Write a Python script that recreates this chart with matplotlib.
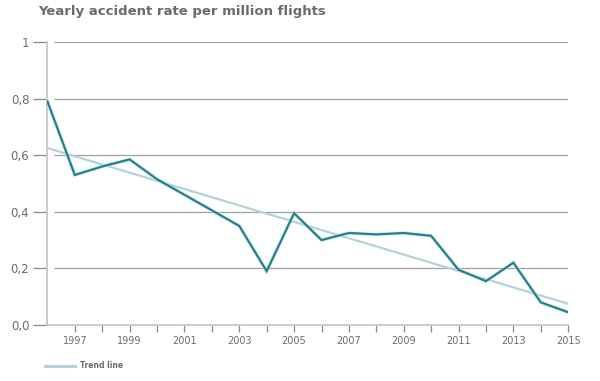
import matplotlib.pyplot as plt
from matplotlib.lines import Line2D

# yearly accident rate per million flights
years = list(range(1996, 2016))
rate = [0.79, 0.53, 0.56, 0.585, 0.515, 0.46, 0.405, 0.35, 0.19, 0.395,
        0.30, 0.325, 0.32, 0.325, 0.315, 0.195, 0.155, 0.22, 0.08, 0.045]

# trend line end points
trend_years = [1996, 2015]
trend_vals = [0.625, 0.075]

y_ticks = [0.0, 0.2, 0.4, 0.6, 0.8, 1.0]
y_labels = ["0,0", "0,2", "0,4", "0,6", "0,8", "1"]
x_ticks = list(range(1997, 2016))
x_labels = [str(y) if y % 2 == 1 else "" for y in x_ticks]

grey = "#6b6b6b"

fig = plt.figure(figsize=(6, 3.81), dpi=100)
ax = fig.add_axes([0.079, 0.147, 0.868, 0.743])

# grid lines, leaving a small gap after the left axis line
ax.hlines(y_ticks[1:], 1996.25, 2015, color="#a0a0a0", lw=0.9, zorder=1)

ax.plot(trend_years, trend_vals, color="#b3d2da", lw=1.6, zorder=2)
ax.plot(years, rate, color="#bff0f5", lw=3.0, alpha=0.6, zorder=3, solid_joinstyle="miter")
ax.plot(years, rate, color="#2a7c89", lw=1.6, zorder=4, solid_joinstyle="miter")

ax.set_xlim(1996, 2015)
ax.set_ylim(0, 1)

for s in ["top", "right"]:
    ax.spines[s].set_visible(False)
for s in ["left", "bottom"]:
    ax.spines[s].set_color("#c4c4c4")
    ax.spines[s].set_linewidth(1.2)

ax.set_yticks(y_ticks)
ax.set_yticklabels(y_labels)
ax.set_xticks(x_ticks)
ax.set_xticklabels(x_labels)
ax.tick_params(axis="y", length=10, width=0.9, color="#8a8a8a", labelsize=8.5,
               labelcolor=grey, pad=3)
ax.tick_params(axis="x", length=5, width=0.9, color="#8a8a8a", labelsize=7,
               labelcolor=grey, pad=3)

fig.text(0.063, 0.97, "Yearly accident rate per million flights", fontsize=9.5,
         fontweight="bold", color=grey, va="center", ha="left")

# legend
fig.add_artist(Line2D([0.075, 0.125], [0.04, 0.04], color="#b3d2da", lw=2.2,
                      transform=fig.transFigure))
fig.text(0.133, 0.04, "Trend line", fontsize=5.5, fontweight="bold", color=grey,
         va="center", ha="left")

fig.savefig("out.png", dpi=100, facecolor="white")
